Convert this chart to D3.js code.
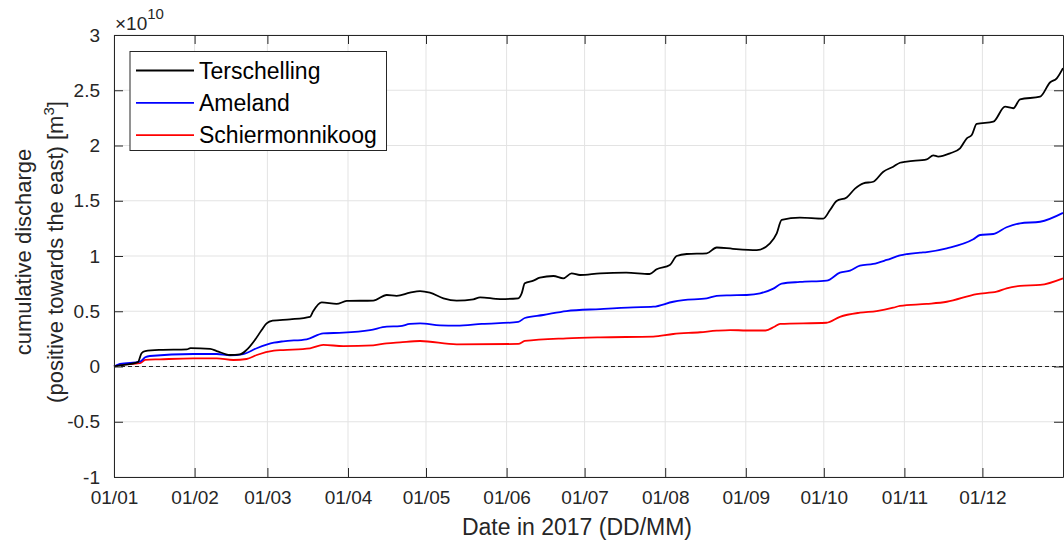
<!DOCTYPE html>
<html><head><meta charset="utf-8">
<script src="https://cdn.jsdelivr.net/npm/d3@7"></script>
<style>
html,body{margin:0;padding:0;background:#fff;}
text{font-family:"Liberation Sans",Arial,Helvetica,sans-serif;}
</style></head>
<body><svg id="chart" width="1064" height="542"></svg>
<script>
// ---- data (values in units of 1e10 m^3, x in day-of-year 2017) ----
const seriesNames = ["Terschelling", "Ameland", "Schiermonnikoog"];
const seriesColors = ["#000000", "#0000ff", "#ff0000"];
const tDays = [0,2.3,9.2,10.6,12,17.7,28,29.4,37,39.5,44.6,48.5,51,54.2,56.8,58.7,61,67.7,75.4,76.6,79.9,85.6,89.5,99.7,104.9,108.7,113.8,117.7,121.5,126.7,131.8,138.2,140.8,148.5,155.5,156.8,158,161.3,163.8,169,172.8,176,179.2,187,197,206,208.7,213.8,216.4,220.3,228,231.8,238,247.2,252.3,254.9,256.8,263.8,272.8,275.4,277.9,281.8,285,288.2,292,295.9,299.7,302.3,304.9,312.6,315.1,317,321.5,325.4,328,329.9,331.8,338.2,342.7,345.9,348.5,356.2,360,362.6,365];
const tVals = [0,0.01,0.04,0.12,0.14,0.15,0.155,0.167,0.16,0.14,0.104,0.11,0.15,0.24,0.33,0.39,0.415,0.427,0.45,0.50,0.58,0.566,0.593,0.597,0.647,0.64,0.668,0.683,0.668,0.617,0.596,0.608,0.626,0.61,0.617,0.662,0.753,0.777,0.804,0.819,0.798,0.843,0.828,0.843,0.849,0.837,0.88,0.918,1.0,1.018,1.024,1.077,1.065,1.054,1.115,1.205,1.326,1.347,1.338,1.416,1.498,1.53,1.61,1.658,1.672,1.763,1.808,1.844,1.855,1.875,1.911,1.90,1.929,1.975,2.065,2.095,2.195,2.215,2.351,2.337,2.418,2.442,2.57,2.608,2.7];
const aDays = [0,2.3,10,12,13.8,30.5,39.5,44.6,49.7,54.9,61.5,65.1,74.1,80.5,88.2,98.5,104.9,110,113.8,117.7,125.4,131.8,141.5,155.5,158,165.1,174,187,199.7,207.4,215.1,219,228,231.8,237,243.3,248.5,253.6,256.8,263.8,274.1,279.2,283.1,286.9,292,297.2,302.3,310,312.6,320.3,330.5,333.1,338.2,343.3,348.5,356.2,365];
const aVals = [0,0.023,0.044,0.083,0.095,0.113,0.113,0.10,0.113,0.165,0.215,0.228,0.246,0.30,0.306,0.33,0.36,0.365,0.385,0.39,0.373,0.37,0.385,0.403,0.439,0.466,0.502,0.52,0.535,0.541,0.586,0.60,0.617,0.64,0.644,0.647,0.662,0.705,0.75,0.765,0.777,0.849,0.867,0.912,0.928,0.964,1.005,1.03,1.036,1.07,1.151,1.19,1.199,1.26,1.296,1.31,1.39];
const sDays = [0,2.3,10,12,17.7,30.5,39.5,45.9,51,54.9,61.5,65.1,75.4,80.5,88.2,99.7,104.9,110,117.7,131.8,155.5,158,174,187,207.4,215.1,225.4,231.8,237,243.3,250.6,254,256.2,274,279.2,286.9,293.3,299.7,302.3,312.6,320.3,331.8,339.5,343.3,348.5,356.2,365];
const sVals = [0,0.015,0.03,0.06,0.065,0.074,0.074,0.059,0.068,0.104,0.143,0.149,0.165,0.195,0.185,0.192,0.21,0.219,0.231,0.20,0.204,0.231,0.255,0.264,0.27,0.294,0.31,0.324,0.33,0.326,0.326,0.36,0.385,0.396,0.45,0.487,0.502,0.532,0.548,0.566,0.586,0.656,0.677,0.708,0.729,0.738,0.798];
const xTickDays = [0,31,59,90,120,151,181,212,243,273,304,334];
const xTickLabels = ["01/01","01/02","01/03","01/04","01/05","01/06","01/07","01/08","01/09","01/10","01/11","01/12"];
const yTicks = [-1,-0.5,0,0.5,1,1.5,2,2.5,3];
const yTickLabels = ["-1","-0.5","0","0.5","1","1.5","2","2.5","3"];

const svg = d3.select("#chart");
const L = 114, R = 1063, T = 35, B = 477;
const x = d3.scaleLinear().domain([0,365]).range([L,R]);
const y = d3.scaleLinear().domain([-1,3]).range([B,T]);
const axisCol = "#262626";
const tickFont = "19px";

svg.append("rect").attr("width",1064).attr("height",542).attr("fill","#fff");

// grid
const grid = svg.append("g");
grid.selectAll("line.gx").data(xTickDays).join("line")
  .attr("x1",d=>x(d)).attr("x2",d=>x(d)).attr("y1",T).attr("y2",B)
  .attr("stroke","#e3e3e3").attr("stroke-width",1);
grid.selectAll("line.gy").data(yTicks).join("line")
  .attr("y1",d=>y(d)).attr("y2",d=>y(d)).attr("x1",L).attr("x2",R)
  .attr("stroke","#e3e3e3").attr("stroke-width",1);

// zero dashed line
svg.append("line").attr("x1",L).attr("x2",R).attr("y1",y(0)).attr("y2",y(0))
  .attr("stroke","#222").attr("stroke-width",1).attr("stroke-dasharray","4,3");

// series
const lineGen = d3.line().x(d=>x(d[0])).y(d=>y(d[1])).curve(d3.curveMonotoneX);
const seriesData = [
  d3.zip(tDays,tVals), d3.zip(aDays,aVals), d3.zip(sDays,sVals)
];
[2,1,0].forEach(i=>{
  svg.append("path").datum(seriesData[i]).attr("d",lineGen)
    .attr("fill","none").attr("stroke",seriesColors[i]).attr("stroke-width",1.8)
    .attr("stroke-linejoin","round");
});

// axes
const xAxisB = d3.axisBottom(x).tickValues(xTickDays).tickFormat((d,i)=>xTickLabels[i]).tickSizeInner(-9).tickSizeOuter(0).tickPadding(14);
const gx = svg.append("g").attr("transform",`translate(0,${B})`).call(xAxisB);
gx.selectAll("text").attr("font-size",tickFont).attr("fill",axisCol).attr("font-family","Liberation Sans, Arial, sans-serif");
const xAxisT = d3.axisTop(x).tickValues(xTickDays).tickFormat("").tickSizeInner(-9).tickSizeOuter(0);
svg.append("g").attr("transform",`translate(0,${T})`).call(xAxisT);

const yAxisL = d3.axisLeft(y).tickValues(yTicks).tickFormat((d,i)=>yTickLabels[i]).tickSizeInner(-9).tickSizeOuter(0).tickPadding(14);
const gy = svg.append("g").attr("transform",`translate(${L},0)`).call(yAxisL);
gy.selectAll("text").attr("font-size",tickFont).attr("fill",axisCol).attr("font-family","Liberation Sans, Arial, sans-serif");
const yAxisR = d3.axisRight(y).tickValues(yTicks).tickFormat("").tickSizeInner(-9).tickSizeOuter(0);
svg.append("g").attr("transform",`translate(${R},0)`).call(yAxisR);

svg.selectAll(".domain").attr("stroke",axisCol);
svg.selectAll(".tick line").attr("stroke",axisCol);

// exponent label
const ex = svg.append("text").attr("x",L+1).attr("y",30).attr("font-size","19px").attr("fill",axisCol);
ex.append("tspan").text("\u00d710");
ex.append("tspan").attr("dy",-11).attr("font-size","15px").text("10");

// axis labels
svg.append("text").attr("x",577).attr("y",535).attr("text-anchor","middle")
  .attr("font-size","23px").attr("fill",axisCol).text("Date in 2017 (DD/MM)");
const yl = svg.append("g").attr("transform","translate(0,252) rotate(-90)");
yl.append("text").attr("x",0).attr("y",31).attr("text-anchor","middle")
  .attr("font-size","22px").attr("fill",axisCol).text("cumulative discharge");
const yl2 = yl.append("text").attr("x",0).attr("y",63).attr("text-anchor","middle")
  .attr("font-size","22px").attr("fill",axisCol);
yl2.append("tspan").text("(positive towards the east) [m");
yl2.append("tspan").attr("dy",-9).attr("font-size","15px").text("3");
yl2.append("tspan").attr("dy",9).text("]");

// legend
const lg = svg.append("g");
lg.append("rect").attr("x",130).attr("y",51.5).attr("width",256.5).attr("height",99)
  .attr("fill","#fff").attr("stroke",axisCol).attr("stroke-width",1);
seriesNames.forEach((n,i)=>{
  const cy = 70.5 + i*32.3;
  lg.append("line").attr("x1",136).attr("x2",194).attr("y1",cy).attr("y2",cy)
    .attr("stroke",seriesColors[i]).attr("stroke-width",1.8);
  lg.append("text").attr("x",199).attr("y",cy+8).attr("font-size","23px").attr("fill","#000").text(n);
});
</script></body></html>
